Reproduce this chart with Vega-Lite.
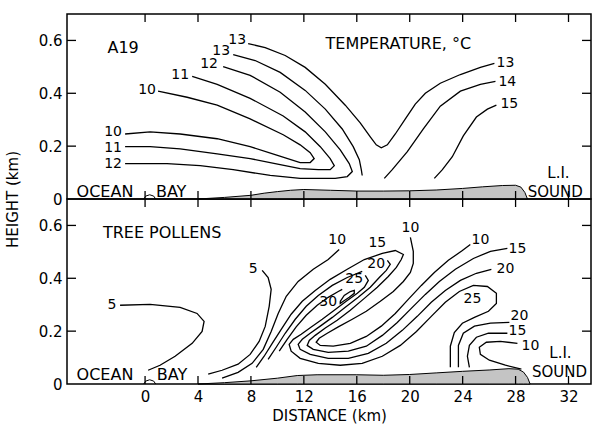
{
  "$schema": "https://vega.github.io/schema/vega-lite/v6.json",
  "padding": {"left": 4, "top": 12, "right": 0, "bottom": 0},
  "background": "white",
  "spacing": 0,
  "bounds": "flush",
  "config": {
    "view": {"stroke": "black", "strokeWidth": 1.5},
    "font": "DejaVu Sans",
    "axis": {"domain": false, "grid": false, "ticks": false, "labelColor": "black", "labelFont": "DejaVu Sans", "labelFontSize": 15, "titleFont": "DejaVu Sans", "titleFontSize": 15, "titleFontWeight": "normal", "titleColor": "black"},
    "text": {"font": "DejaVu Sans", "fontSize": 15, "color": "black"}
  },
  "datasets": {
    "xt": [{"v": 0}, {"v": 4}, {"v": 8}, {"v": 12}, {"v": 16}, {"v": 20}, {"v": 24}, {"v": 28}, {"v": 32}],
    "yt": [{"v": 0.2}, {"v": 0.4}, {"v": 0.6}],
    "terrainTop": [
      {"x": 4, "y": 0}, {"x": 6, "y": 0.006}, {"x": 8, "y": 0.014}, {"x": 9, "y": 0.022}, {"x": 10, "y": 0.028}, {"x": 11, "y": 0.033}, {"x": 12, "y": 0.036}, {"x": 14, "y": 0.033}, {"x": 16, "y": 0.030}, {"x": 18, "y": 0.030}, {"x": 20, "y": 0.031}, {"x": 22, "y": 0.034}, {"x": 24, "y": 0.040}, {"x": 25.5, "y": 0.046}, {"x": 27, "y": 0.051}, {"x": 28, "y": 0.052}, {"x": 28.4, "y": 0.045}, {"x": 28.7, "y": 0.025}, {"x": 28.9, "y": 0}
    ],
    "terrainBottom": [
      {"x": 4, "y": 0}, {"x": 6, "y": 0.005}, {"x": 8, "y": 0.012}, {"x": 10, "y": 0.022}, {"x": 11.5, "y": 0.032}, {"x": 13, "y": 0.035}, {"x": 16, "y": 0.035}, {"x": 18, "y": 0.033}, {"x": 20, "y": 0.036}, {"x": 22, "y": 0.042}, {"x": 24, "y": 0.048}, {"x": 26, "y": 0.053}, {"x": 27.5, "y": 0.058}, {"x": 28.2, "y": 0.056}, {"x": 28.6, "y": 0.045}, {"x": 28.9, "y": 0.025}, {"x": 29.1, "y": 0}
    ],
    "bump": [
      {"x": -0.1, "y": 0}, {"x": 0.05, "y": 0.011}, {"x": 0.35, "y": 0.016}, {"x": 0.65, "y": 0.011}, {"x": 0.8, "y": 0}
    ],
    "top": [
      {"c": "t10", "x": 0.98, "y": 0.408}, {"c": "t10", "x": 3.18, "y": 0.385}, {"c": "t10", "x": 5.45, "y": 0.355}, {"c": "t10", "x": 7.94, "y": 0.303}, {"c": "t10", "x": 10.44, "y": 0.243}, {"c": "t10", "x": 11.72, "y": 0.205}, {"c": "t10", "x": 12.48, "y": 0.175}, {"c": "t10", "x": 12.78, "y": 0.153}, {"c": "t10", "x": 12.48, "y": 0.138}, {"c": "t10", "x": 11.72, "y": 0.138}, {"c": "t10", "x": 9.83, "y": 0.168}, {"c": "t10", "x": 7.94, "y": 0.198}, {"c": "t10", "x": 5.45, "y": 0.228}, {"c": "t10", "x": 2.65, "y": 0.246}, {"c": "t10", "x": 0.38, "y": 0.254}, {"c": "t10", "x": -1.51, "y": 0.246},
      {"c": "t11", "x": 3.56, "y": 0.464}, {"c": "t11", "x": 5.45, "y": 0.434}, {"c": "t11", "x": 7.94, "y": 0.381}, {"c": "t11", "x": 10.44, "y": 0.314}, {"c": "t11", "x": 12.10, "y": 0.254}, {"c": "t11", "x": 13.24, "y": 0.198}, {"c": "t11", "x": 13.99, "y": 0.153}, {"c": "t11", "x": 14.30, "y": 0.126}, {"c": "t11", "x": 13.99, "y": 0.111}, {"c": "t11", "x": 13.09, "y": 0.111}, {"c": "t11", "x": 11.72, "y": 0.115}, {"c": "t11", "x": 9.83, "y": 0.134}, {"c": "t11", "x": 7.94, "y": 0.153}, {"c": "t11", "x": 5.45, "y": 0.171}, {"c": "t11", "x": 2.65, "y": 0.190}, {"c": "t11", "x": 0.38, "y": 0.198}, {"c": "t11", "x": -1.51, "y": 0.198},
      {"c": "t12", "x": 5.90, "y": 0.501}, {"c": "t12", "x": 7.94, "y": 0.468}, {"c": "t12", "x": 10.21, "y": 0.404}, {"c": "t12", "x": 12.10, "y": 0.329}, {"c": "t12", "x": 13.62, "y": 0.254}, {"c": "t12", "x": 14.75, "y": 0.186}, {"c": "t12", "x": 15.43, "y": 0.134}, {"c": "t12", "x": 15.66, "y": 0.104}, {"c": "t12", "x": 15.28, "y": 0.085}, {"c": "t12", "x": 14.37, "y": 0.078}, {"c": "t12", "x": 12.86, "y": 0.078}, {"c": "t12", "x": 11.72, "y": 0.078}, {"c": "t12", "x": 9.46, "y": 0.089}, {"c": "t12", "x": 6.66, "y": 0.111}, {"c": "t12", "x": 4.16, "y": 0.126}, {"c": "t12", "x": 1.66, "y": 0.134}, {"c": "t12", "x": -1.51, "y": 0.134},
      {"c": "t13a", "x": 6.66, "y": 0.546}, {"c": "t13a", "x": 8.32, "y": 0.524}, {"c": "t13a", "x": 10.21, "y": 0.479}, {"c": "t13a", "x": 12.10, "y": 0.411}, {"c": "t13a", "x": 13.62, "y": 0.340}, {"c": "t13a", "x": 14.90, "y": 0.265}, {"c": "t13a", "x": 15.73, "y": 0.198}, {"c": "t13a", "x": 16.19, "y": 0.149}, {"c": "t13a", "x": 16.34, "y": 0.111}, {"c": "t13a", "x": 16.41, "y": 0.089},
      {"c": "t13b", "x": 7.79, "y": 0.588}, {"c": "t13b", "x": 9.08, "y": 0.573}, {"c": "t13b", "x": 10.59, "y": 0.543}, {"c": "t13b", "x": 12.10, "y": 0.498}, {"c": "t13b", "x": 13.62, "y": 0.434}, {"c": "t13b", "x": 15.13, "y": 0.355}, {"c": "t13b", "x": 16.26, "y": 0.288}, {"c": "t13b", "x": 17.02, "y": 0.235}, {"c": "t13b", "x": 17.47, "y": 0.205}, {"c": "t13b", "x": 17.85, "y": 0.194}, {"c": "t13b", "x": 18.31, "y": 0.205}, {"c": "t13b", "x": 18.91, "y": 0.246}, {"c": "t13b", "x": 19.67, "y": 0.303}, {"c": "t13b", "x": 20.42, "y": 0.359}, {"c": "t13b", "x": 21.18, "y": 0.400}, {"c": "t13b", "x": 22.31, "y": 0.438}, {"c": "t13b", "x": 23.83, "y": 0.471}, {"c": "t13b", "x": 25.34, "y": 0.498}, {"c": "t13b", "x": 26.40, "y": 0.513},
      {"c": "t14", "x": 18.08, "y": 0.078}, {"c": "t14", "x": 18.68, "y": 0.111}, {"c": "t14", "x": 19.82, "y": 0.179}, {"c": "t14", "x": 21.03, "y": 0.265}, {"c": "t14", "x": 22.31, "y": 0.351}, {"c": "t14", "x": 23.83, "y": 0.408}, {"c": "t14", "x": 25.34, "y": 0.434}, {"c": "t14", "x": 26.48, "y": 0.445},
      {"c": "t15", "x": 21.86, "y": 0.078}, {"c": "t15", "x": 22.47, "y": 0.111}, {"c": "t15", "x": 23.22, "y": 0.160}, {"c": "t15", "x": 24.05, "y": 0.239}, {"c": "t15", "x": 25.04, "y": 0.310}, {"c": "t15", "x": 25.87, "y": 0.340}, {"c": "t15", "x": 26.55, "y": 0.355}
    ],
    "bottom": [
      {"c": "b5a", "x": -1.89, "y": 0.298}, {"c": "b5a", "x": 0.38, "y": 0.301}, {"c": "b5a", "x": 2.65, "y": 0.290}, {"c": "b5a", "x": 3.93, "y": 0.267}, {"c": "b5a", "x": 4.46, "y": 0.237}, {"c": "b5a", "x": 4.31, "y": 0.199}, {"c": "b5a", "x": 3.56, "y": 0.154}, {"c": "b5a", "x": 2.27, "y": 0.105}, {"c": "b5a", "x": 1.13, "y": 0.071}, {"c": "b5a", "x": 0.23, "y": 0.052},
      {"c": "b5b", "x": 8.85, "y": 0.430}, {"c": "b5b", "x": 9.30, "y": 0.403}, {"c": "b5b", "x": 9.53, "y": 0.358}, {"c": "b5b", "x": 9.38, "y": 0.294}, {"c": "b5b", "x": 9.08, "y": 0.218}, {"c": "b5b", "x": 8.62, "y": 0.161}, {"c": "b5b", "x": 7.94, "y": 0.112}, {"c": "b5b", "x": 7.03, "y": 0.075}, {"c": "b5b", "x": 5.82, "y": 0.052}, {"c": "b5b", "x": 4.77, "y": 0.037},
      {"c": "b10o", "x": 14.67, "y": 0.509}, {"c": "b10o", "x": 13.84, "y": 0.471}, {"c": "b10o", "x": 12.71, "y": 0.434}, {"c": "b10o", "x": 11.57, "y": 0.388}, {"c": "b10o", "x": 10.67, "y": 0.332}, {"c": "b10o", "x": 10.06, "y": 0.267}, {"c": "b10o", "x": 9.53, "y": 0.199}, {"c": "b10o", "x": 8.93, "y": 0.131}, {"c": "b10o", "x": 8.09, "y": 0.078}, {"c": "b10o", "x": 7.03, "y": 0.044}, {"c": "b10o", "x": 5.82, "y": 0.022},
      {"c": "b15", "x": 8.40, "y": 0.063}, {"c": "b15", "x": 9.00, "y": 0.105}, {"c": "b15", "x": 9.61, "y": 0.154}, {"c": "b15", "x": 10.29, "y": 0.207}, {"c": "b15", "x": 11.04, "y": 0.264}, {"c": "b15", "x": 11.88, "y": 0.313}, {"c": "b15", "x": 12.86, "y": 0.354}, {"c": "b15", "x": 13.99, "y": 0.396}, {"c": "b15", "x": 15.28, "y": 0.434}, {"c": "b15", "x": 16.57, "y": 0.471}, {"c": "b15", "x": 17.93, "y": 0.494}, {"c": "b15", "x": 18.91, "y": 0.505}, {"c": "b15", "x": 19.52, "y": 0.490}, {"c": "b15", "x": 19.36, "y": 0.471}, {"c": "b15", "x": 18.99, "y": 0.441}, {"c": "b15", "x": 18.38, "y": 0.407}, {"c": "b15", "x": 17.55, "y": 0.366}, {"c": "b15", "x": 16.57, "y": 0.324}, {"c": "b15", "x": 15.51, "y": 0.279}, {"c": "b15", "x": 14.52, "y": 0.241}, {"c": "b15", "x": 13.62, "y": 0.212}, {"c": "b15", "x": 12.86, "y": 0.184}, {"c": "b15", "x": 12.41, "y": 0.165}, {"c": "b15", "x": 12.25, "y": 0.146}, {"c": "b15", "x": 12.71, "y": 0.131}, {"c": "b15", "x": 13.84, "y": 0.120}, {"c": "b15", "x": 15.36, "y": 0.124}, {"c": "b15", "x": 16.72, "y": 0.143}, {"c": "b15", "x": 17.93, "y": 0.184}, {"c": "b15", "x": 19.06, "y": 0.233}, {"c": "b15", "x": 20.12, "y": 0.286}, {"c": "b15", "x": 21.18, "y": 0.339}, {"c": "b15", "x": 22.24, "y": 0.388}, {"c": "b15", "x": 23.45, "y": 0.434}, {"c": "b15", "x": 24.81, "y": 0.475}, {"c": "b15", "x": 26.10, "y": 0.502}, {"c": "b15", "x": 27.38, "y": 0.513},
      {"c": "b20a", "x": 9.30, "y": 0.093}, {"c": "b20a", "x": 9.91, "y": 0.139}, {"c": "b20a", "x": 10.59, "y": 0.192}, {"c": "b20a", "x": 11.35, "y": 0.245}, {"c": "b20a", "x": 12.18, "y": 0.294}, {"c": "b20a", "x": 13.09, "y": 0.335}, {"c": "b20a", "x": 14.15, "y": 0.373}, {"c": "b20a", "x": 15.28, "y": 0.403}, {"c": "b20a", "x": 16.41, "y": 0.426},
      {"c": "b20b", "x": 18.31, "y": 0.468}, {"c": "b20b", "x": 18.53, "y": 0.453}, {"c": "b20b", "x": 18.23, "y": 0.430}, {"c": "b20b", "x": 17.70, "y": 0.403}, {"c": "b20b", "x": 17.02, "y": 0.366}, {"c": "b20b", "x": 16.11, "y": 0.328}, {"c": "b20b", "x": 15.13, "y": 0.290}, {"c": "b20b", "x": 14.15, "y": 0.252}, {"c": "b20b", "x": 13.24, "y": 0.219}, {"c": "b20b", "x": 12.48, "y": 0.192}, {"c": "b20b", "x": 11.88, "y": 0.169}, {"c": "b20b", "x": 11.57, "y": 0.150}, {"c": "b20b", "x": 11.72, "y": 0.131}, {"c": "b20b", "x": 12.48, "y": 0.112}, {"c": "b20b", "x": 13.84, "y": 0.097}, {"c": "b20b", "x": 15.36, "y": 0.097}, {"c": "b20b", "x": 16.87, "y": 0.116}, {"c": "b20b", "x": 18.23, "y": 0.154}, {"c": "b20b", "x": 19.44, "y": 0.203}, {"c": "b20b", "x": 20.57, "y": 0.256}, {"c": "b20b", "x": 21.63, "y": 0.309}, {"c": "b20b", "x": 22.69, "y": 0.354}, {"c": "b20b", "x": 23.83, "y": 0.392}, {"c": "b20b", "x": 25.04, "y": 0.419}, {"c": "b20b", "x": 26.17, "y": 0.434},
      {"c": "b25a", "x": 10.14, "y": 0.124}, {"c": "b25a", "x": 10.74, "y": 0.169}, {"c": "b25a", "x": 11.42, "y": 0.216}, {"c": "b25a", "x": 12.18, "y": 0.260}, {"c": "b25a", "x": 13.01, "y": 0.298}, {"c": "b25a", "x": 13.84, "y": 0.328}, {"c": "b25a", "x": 14.60, "y": 0.350}, {"c": "b25a", "x": 14.90, "y": 0.358},
      {"c": "b25b", "x": 16.64, "y": 0.411}, {"c": "b25b", "x": 16.87, "y": 0.392}, {"c": "b25b", "x": 16.57, "y": 0.366}, {"c": "b25b", "x": 16.04, "y": 0.343}, {"c": "b25b", "x": 15.20, "y": 0.313}, {"c": "b25b", "x": 14.30, "y": 0.279}, {"c": "b25b", "x": 13.39, "y": 0.245}, {"c": "b25b", "x": 12.56, "y": 0.216}, {"c": "b25b", "x": 11.80, "y": 0.188}, {"c": "b25b", "x": 11.20, "y": 0.169}, {"c": "b25b", "x": 10.89, "y": 0.150}, {"c": "b25b", "x": 11.04, "y": 0.124}, {"c": "b25b", "x": 11.72, "y": 0.097}, {"c": "b25b", "x": 13.09, "y": 0.078}, {"c": "b25b", "x": 14.75, "y": 0.071}, {"c": "b25b", "x": 16.41, "y": 0.078}, {"c": "b25b", "x": 17.93, "y": 0.105}, {"c": "b25b", "x": 19.29, "y": 0.146}, {"c": "b25b", "x": 20.51, "y": 0.199}, {"c": "b25b", "x": 21.63, "y": 0.256}, {"c": "b25b", "x": 22.69, "y": 0.309}, {"c": "b25b", "x": 23.75, "y": 0.350}, {"c": "b25b", "x": 24.81, "y": 0.373}, {"c": "b25b", "x": 25.87, "y": 0.369}, {"c": "b25b", "x": 26.55, "y": 0.343}, {"c": "b25b", "x": 26.55, "y": 0.305}, {"c": "b25b", "x": 25.95, "y": 0.275}, {"c": "b25b", "x": 24.89, "y": 0.252}, {"c": "b25b", "x": 23.98, "y": 0.230}, {"c": "b25b", "x": 23.37, "y": 0.195}, {"c": "b25b", "x": 23.07, "y": 0.143}, {"c": "b25b", "x": 23.07, "y": 0.063},
      {"c": "b30", "x": 14.75, "y": 0.313}, {"c": "b30", "x": 15.05, "y": 0.335}, {"c": "b30", "x": 15.51, "y": 0.350}, {"c": "b30", "x": 15.81, "y": 0.354}, {"c": "b30", "x": 15.81, "y": 0.343}, {"c": "b30", "x": 15.43, "y": 0.328}, {"c": "b30", "x": 14.98, "y": 0.313}, {"c": "b30", "x": 14.75, "y": 0.305}, {"c": "b30", "x": 14.75, "y": 0.313},
      {"c": "b10t", "x": 20.05, "y": 0.555}, {"c": "b10t", "x": 20.27, "y": 0.502}, {"c": "b10t", "x": 20.27, "y": 0.456}, {"c": "b10t", "x": 20.05, "y": 0.422}, {"c": "b10t", "x": 19.52, "y": 0.388}, {"c": "b10t", "x": 18.76, "y": 0.350}, {"c": "b10t", "x": 17.78, "y": 0.313}, {"c": "b10t", "x": 16.72, "y": 0.275}, {"c": "b10t", "x": 15.66, "y": 0.245}, {"c": "b10t", "x": 14.60, "y": 0.216}, {"c": "b10t", "x": 13.77, "y": 0.192}, {"c": "b10t", "x": 13.16, "y": 0.173}, {"c": "b10t", "x": 12.93, "y": 0.158}, {"c": "b10t", "x": 13.24, "y": 0.146}, {"c": "b10t", "x": 14.22, "y": 0.143}, {"c": "b10t", "x": 15.51, "y": 0.154}, {"c": "b10t", "x": 16.72, "y": 0.180}, {"c": "b10t", "x": 17.85, "y": 0.219}, {"c": "b10t", "x": 18.91, "y": 0.267}, {"c": "b10t", "x": 19.89, "y": 0.320}, {"c": "b10t", "x": 20.88, "y": 0.373}, {"c": "b10t", "x": 21.86, "y": 0.422}, {"c": "b10t", "x": 22.92, "y": 0.468}, {"c": "b10t", "x": 23.98, "y": 0.505}, {"c": "b10t", "x": 24.58, "y": 0.528},
      {"c": "b20r", "x": 27.53, "y": 0.233}, {"c": "b20r", "x": 26.10, "y": 0.230}, {"c": "b20r", "x": 24.89, "y": 0.219}, {"c": "b20r", "x": 24.05, "y": 0.192}, {"c": "b20r", "x": 23.68, "y": 0.146}, {"c": "b20r", "x": 23.68, "y": 0.063},
      {"c": "b15r", "x": 27.38, "y": 0.192}, {"c": "b15r", "x": 25.95, "y": 0.192}, {"c": "b15r", "x": 25.04, "y": 0.177}, {"c": "b15r", "x": 24.51, "y": 0.146}, {"c": "b15r", "x": 24.36, "y": 0.105}, {"c": "b15r", "x": 24.51, "y": 0.063},
      {"c": "b10r", "x": 28.14, "y": 0.154}, {"c": "b10r", "x": 26.85, "y": 0.161}, {"c": "b10r", "x": 25.79, "y": 0.158}, {"c": "b10r", "x": 25.26, "y": 0.139}, {"c": "b10r", "x": 25.34, "y": 0.112}, {"c": "b10r", "x": 26.02, "y": 0.090}, {"c": "b10r", "x": 27.23, "y": 0.071}, {"c": "b10r", "x": 28.44, "y": 0.056}
    ],
    "topLabels": [
      {"x": -1.66, "y": 0.573, "t": "A19", "s": 16},
      {"x": 19.14, "y": 0.588, "t": "TEMPERATURE, °C", "s": 16},
      {"x": 27.23, "y": 0.516, "t": "13", "s": 14},
      {"x": 27.38, "y": 0.441, "t": "14", "s": 14},
      {"x": 27.53, "y": 0.359, "t": "15", "s": 14},
      {"x": 0.15, "y": 0.411, "t": "10", "s": 14},
      {"x": 2.65, "y": 0.468, "t": "11", "s": 14},
      {"x": 4.84, "y": 0.509, "t": "12", "s": 14},
      {"x": 5.75, "y": 0.561, "t": "13", "s": 14},
      {"x": 6.96, "y": 0.603, "t": "13", "s": 14},
      {"x": -2.42, "y": 0.252, "t": "10", "s": 14},
      {"x": -2.42, "y": 0.194, "t": "11", "s": 14},
      {"x": -2.42, "y": 0.134, "t": "12", "s": 14},
      {"x": -3.03, "y": 0.025, "t": "OCEAN", "s": 16},
      {"x": 1.97, "y": 0.025, "t": "BAY", "s": 16},
      {"x": 31.24, "y": 0.099, "t": "L.I.", "s": 15},
      {"x": 31.0, "y": 0.027, "t": "SOUND", "s": 15}
    ],
    "bottomLabels": [
      {"x": 1.29, "y": 0.570, "t": "TREE POLLENS", "s": 16},
      {"x": -2.50, "y": 0.298, "t": "5", "s": 14},
      {"x": 8.17, "y": 0.434, "t": "5", "s": 14},
      {"x": 14.52, "y": 0.543, "t": "10", "s": 14},
      {"x": 17.55, "y": 0.532, "t": "15", "s": 14},
      {"x": 17.47, "y": 0.453, "t": "20", "s": 14},
      {"x": 15.81, "y": 0.396, "t": "25", "s": 14},
      {"x": 13.84, "y": 0.309, "t": "30", "s": 14},
      {"x": 20.05, "y": 0.589, "t": "10", "s": 14},
      {"x": 25.34, "y": 0.543, "t": "10", "s": 14},
      {"x": 28.14, "y": 0.509, "t": "15", "s": 14},
      {"x": 27.23, "y": 0.437, "t": "20", "s": 14},
      {"x": 24.74, "y": 0.320, "t": "25", "s": 14},
      {"x": 28.29, "y": 0.258, "t": "20", "s": 14},
      {"x": 28.14, "y": 0.200, "t": "15", "s": 14},
      {"x": 29.12, "y": 0.142, "t": "10", "s": 14},
      {"x": -3.03, "y": 0.033, "t": "OCEAN", "s": 16},
      {"x": 2.04, "y": 0.033, "t": "BAY", "s": 16},
      {"x": 31.39, "y": 0.118, "t": "L.I.", "s": 15},
      {"x": 31.32, "y": 0.046, "t": "SOUND", "s": 15}
    ]
  },
  "vconcat": [
    {
      "width": 524,
      "height": 185,
      "layer": [
        {
          "data": {"name": "terrainTop"},
          "mark": {"type": "area", "color": "#c4c4c4", "stroke": "black", "strokeWidth": 1},
          "encoding": {
            "x": {"field": "x", "type": "quantitative", "scale": {"domain": [-5.9, 33.7], "nice": false, "zero": false}, "axis": null},
            "y": {"field": "y", "type": "quantitative", "scale": {"domain": [0, 0.7], "nice": false, "zero": false},
                  "axis": {"orient": "left", "values": [0, 0.2, 0.4, 0.6], "labelExpr": "datum.value == 0 ? '0' : format(datum.value, '.1f')", "labelPadding": 5, "title": "HEIGHT (km)", "titleY": 185, "titlePadding": 18}}
          }
        },
        {
          "data": {"name": "bump"},
          "mark": {"type": "line", "color": "black", "strokeWidth": 1},
          "encoding": {"x": {"field": "x", "type": "quantitative"}, "y": {"field": "y", "type": "quantitative"}}
        },
        {
          "data": {"name": "top"},
          "mark": {"type": "line", "color": "black", "strokeWidth": 1.3},
          "encoding": {"x": {"field": "x", "type": "quantitative"}, "y": {"field": "y", "type": "quantitative"}, "detail": {"field": "c"}, "order": {"value": null}}
        },
        {
          "data": {"name": "topLabels"},
          "mark": {"type": "text", "align": "center", "baseline": "middle"},
          "encoding": {"x": {"field": "x", "type": "quantitative"}, "y": {"field": "y", "type": "quantitative"}, "text": {"field": "t"}, "size": {"field": "s", "type": "quantitative", "scale": null}}
        },
        {
          "data": {"name": "xt"},
          "mark": {"type": "rule", "color": "black", "strokeWidth": 1.3, "y2Offset": 8},
          "encoding": {"x": {"field": "v", "type": "quantitative"}, "y": {"datum": 0.7, "type": "quantitative"}, "y2": {"datum": 0.7}}
        },
        {
          "data": {"name": "xt"},
          "mark": {"type": "rule", "color": "black", "strokeWidth": 1.3, "y2Offset": -8},
          "encoding": {"x": {"field": "v", "type": "quantitative"}, "y": {"datum": 0, "type": "quantitative"}, "y2": {"datum": 0}}
        },
        {
          "data": {"name": "yt"},
          "mark": {"type": "rule", "color": "black", "strokeWidth": 1.3, "x2Offset": 9},
          "encoding": {"y": {"field": "v", "type": "quantitative"}, "x": {"datum": -5.9, "type": "quantitative"}, "x2": {"datum": -5.9}}
        },
        {
          "data": {"name": "yt"},
          "mark": {"type": "rule", "color": "black", "strokeWidth": 1.3, "x2Offset": -9},
          "encoding": {"y": {"field": "v", "type": "quantitative"}, "x": {"datum": 33.7, "type": "quantitative"}, "x2": {"datum": 33.7}}
        }
      ]
    },
    {
      "width": 524,
      "height": 185,
      "layer": [
        {
          "data": {"name": "terrainBottom"},
          "mark": {"type": "area", "color": "#c4c4c4", "stroke": "black", "strokeWidth": 1},
          "encoding": {
            "x": {"field": "x", "type": "quantitative", "scale": {"domain": [-5.9, 33.7], "nice": false, "zero": false},
                  "axis": {"orient": "bottom", "values": [0, 4, 8, 12, 16, 20, 24, 28, 32], "format": "d", "labelPadding": 5, "title": "DISTANCE (km)", "titlePadding": 4}},
            "y": {"field": "y", "type": "quantitative", "scale": {"domain": [0, 0.7], "nice": false, "zero": false},
                  "axis": {"orient": "left", "values": [0, 0.2, 0.4, 0.6], "labelExpr": "datum.value == 0 ? '0' : format(datum.value, '.1f')", "labelPadding": 5, "title": null}}
          }
        },
        {
          "data": {"name": "bump"},
          "mark": {"type": "line", "color": "black", "strokeWidth": 1},
          "encoding": {"x": {"field": "x", "type": "quantitative"}, "y": {"field": "y", "type": "quantitative"}}
        },
        {
          "data": {"name": "bottom"},
          "mark": {"type": "line", "color": "black", "strokeWidth": 1.3},
          "encoding": {"x": {"field": "x", "type": "quantitative"}, "y": {"field": "y", "type": "quantitative"}, "detail": {"field": "c"}, "order": {"value": null}}
        },
        {
          "data": {"name": "bottomLabels"},
          "mark": {"type": "text", "align": "center", "baseline": "middle"},
          "encoding": {"x": {"field": "x", "type": "quantitative"}, "y": {"field": "y", "type": "quantitative"}, "text": {"field": "t"}, "size": {"field": "s", "type": "quantitative", "scale": null}}
        },
        {
          "data": {"name": "xt"},
          "mark": {"type": "rule", "color": "black", "strokeWidth": 1.3, "y2Offset": 8},
          "encoding": {"x": {"field": "v", "type": "quantitative"}, "y": {"datum": 0.7, "type": "quantitative"}, "y2": {"datum": 0.7}}
        },
        {
          "data": {"name": "xt"},
          "mark": {"type": "rule", "color": "black", "strokeWidth": 1.3, "y2Offset": -8},
          "encoding": {"x": {"field": "v", "type": "quantitative"}, "y": {"datum": 0, "type": "quantitative"}, "y2": {"datum": 0}}
        },
        {
          "data": {"name": "yt"},
          "mark": {"type": "rule", "color": "black", "strokeWidth": 1.3, "x2Offset": 9},
          "encoding": {"y": {"field": "v", "type": "quantitative"}, "x": {"datum": -5.9, "type": "quantitative"}, "x2": {"datum": -5.9}}
        },
        {
          "data": {"name": "yt"},
          "mark": {"type": "rule", "color": "black", "strokeWidth": 1.3, "x2Offset": -9},
          "encoding": {"y": {"field": "v", "type": "quantitative"}, "x": {"datum": 33.7, "type": "quantitative"}, "x2": {"datum": 33.7}}
        }
      ]
    }
  ]
}
